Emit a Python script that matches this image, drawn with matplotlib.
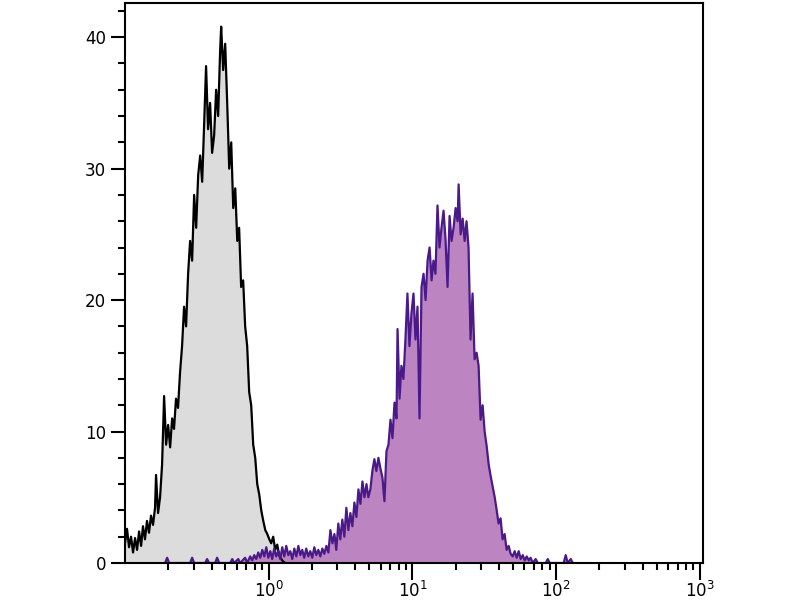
import numpy as np
import matplotlib
matplotlib.use('Agg')
import matplotlib.pyplot as plt
from matplotlib.ticker import LogLocator, MultipleLocator, FixedLocator

# control (gray) histogram: log10 of fluorescence, counts
gray_logx = [-1.000, -0.986, -0.972, -0.958, -0.944, -0.930, -0.916, -0.902, -0.888, -0.875,
             -0.861, -0.847, -0.833, -0.819, -0.805, -0.791, -0.784, -0.770, -0.756, -0.742,
             -0.728, -0.714, -0.700, -0.686, -0.672, -0.659, -0.645, -0.631, -0.617, -0.603,
             -0.589, -0.575, -0.561, -0.547, -0.533, -0.519, -0.505, -0.491, -0.477, -0.463,
             -0.449, -0.436, -0.422, -0.408, -0.394, -0.380, -0.366, -0.352, -0.338, -0.331,
             -0.317, -0.303, -0.289, -0.275, -0.261, -0.247, -0.233, -0.219, -0.206, -0.192,
             -0.178, -0.164, -0.150, -0.136, -0.122, -0.108, -0.094, -0.080, -0.066, -0.052,
             -0.038, -0.024, -0.010, 0.004, 0.017, 0.031, 0.045, 0.059, 0.073, 0.087,
             0.101, 0.115]
gray_counts = [1.5, 2.6, 1.2, 2.0, 0.8, 1.9, 1.0, 2.4, 1.3, 2.8,
               1.8, 3.2, 2.3, 3.6, 2.9, 4.2, 6.7, 3.8, 5.0, 7.5,
               12.7, 9.0, 10.5, 8.8, 11.0, 10.2, 12.5, 11.8, 14.5, 16.5,
               19.5, 18.0, 22.0, 24.5, 23.0, 28.0, 25.5, 29.5, 31.0, 29.0,
               33.5, 37.8, 33.0, 35.0, 31.2, 32.5, 36.0, 34.0, 39.0, 40.8,
               37.5, 39.5, 35.0, 30.0, 32.0, 27.0, 28.5, 24.5, 25.5, 21.0,
               21.5, 18.0, 16.5, 13.0, 12.0, 9.0, 8.0, 6.0, 5.2, 4.0,
               3.2, 2.5, 2.2, 1.8, 1.5, 2.0, 1.0, 1.4, 0.6, 0.3,
               0.1, 0.0]

# stained (purple) histogram
purple_logx = [-0.721, -0.707, -0.693, -0.547, -0.533, -0.519, -0.442, -0.429, -0.415, -0.373,
               -0.359, -0.345, -0.268, -0.254, -0.240, -0.212, -0.199, -0.164, -0.150, -0.129,
               -0.115, -0.101, -0.087, -0.073, -0.059, -0.045, -0.031, -0.017, -0.003, 0.011,
               0.024, 0.038, 0.052, 0.066, 0.080, 0.094, 0.108, 0.122, 0.136, 0.150,
               0.164, 0.178, 0.192, 0.206, 0.220, 0.233, 0.247, 0.261, 0.275, 0.289,
               0.303, 0.317, 0.331, 0.345, 0.359, 0.373, 0.387, 0.401, 0.415, 0.429,
               0.443, 0.457, 0.470, 0.484, 0.498, 0.512, 0.526, 0.540, 0.554, 0.568,
               0.582, 0.596, 0.610, 0.624, 0.638, 0.652, 0.666, 0.680, 0.693, 0.707,
               0.721, 0.735, 0.749, 0.763, 0.777, 0.791, 0.805, 0.819, 0.833, 0.847,
               0.861, 0.875, 0.889, 0.896, 0.910, 0.923, 0.937, 0.951, 0.965, 0.979,
               0.993, 1.007, 1.021, 1.035, 1.049, 1.063, 1.077, 1.091, 1.105, 1.119,
               1.133, 1.146, 1.160, 1.174, 1.188, 1.202, 1.216, 1.230, 1.244, 1.258,
               1.272, 1.286, 1.300, 1.314, 1.321, 1.335, 1.349, 1.363, 1.376, 1.390,
               1.404, 1.418, 1.432, 1.446, 1.460, 1.474, 1.488, 1.502, 1.516, 1.530,
               1.544, 1.558, 1.572, 1.586, 1.599, 1.613, 1.627, 1.641, 1.655, 1.669,
               1.683, 1.697, 1.711, 1.725, 1.739, 1.753, 1.767, 1.781, 1.795, 1.809,
               1.822, 1.836, 1.857, 1.871, 1.927, 1.941, 1.955, 2.052, 2.066, 2.080,
               2.101, 2.115]
purple_counts = [0.0, 0.4, 0.0, 0.0, 0.4, 0.0, 0.0, 0.3, 0.0, 0.0,
                 0.4, 0.0, 0.0, 0.3, 0.0, 0.3, 0.0, 0.4, 0.0, 0.5,
                 0.2, 0.6, 0.3, 0.8, 0.4, 1.0, 0.5, 1.2, 0.4, 0.9,
                 0.3, 1.1, 0.5, 0.9, 0.3, 1.2, 0.5, 1.3, 0.6, 0.9,
                 0.3, 1.1, 0.5, 1.3, 0.6, 1.0, 0.4, 1.1, 0.5, 0.9,
                 0.4, 1.2, 0.6, 1.0, 0.5, 1.1, 0.7, 1.3, 0.8, 2.5,
                 1.5, 2.2, 1.0, 3.0, 1.8, 3.3, 2.0, 4.2, 2.5, 3.8,
                 2.8, 4.6, 3.5, 5.6, 4.5, 6.2, 5.0, 6.0, 5.0, 5.6,
                 7.0, 7.9, 7.0, 8.0, 7.2, 6.5, 4.7, 8.5, 9.0, 10.9,
                 9.5, 12.2, 11.0, 17.8, 12.5, 15.0, 14.0, 17.0, 20.5, 16.5,
                 19.0, 20.5, 17.0, 19.5, 11.0, 21.0, 22.0, 20.0, 23.0, 24.0,
                 21.5, 23.0, 22.0, 27.2, 24.0, 25.5, 26.8, 24.6, 21.0, 26.4,
                 24.5, 25.5, 27.0, 26.0, 28.8, 25.0, 26.2, 24.5, 26.0, 24.0,
                 17.0, 20.5, 15.5, 16.0, 15.0, 10.9, 12.0, 10.0, 8.9, 7.5,
                 6.6, 5.8, 5.0, 4.0, 3.0, 3.4, 1.8, 2.2, 1.0, 1.3,
                 0.7, 0.5, 0.9, 0.4, 0.9, 0.3, 0.6, 0.2, 0.5, 0.2,
                 0.4, 0.0, 0.3, 0.0, 0.0, 0.3, 0.0, 0.0, 0.6, 0.0,
                 0.3, 0.0]

gray_x = 10 ** np.array(gray_logx)
gray_y = np.array(gray_counts)
purple_x = 10 ** np.array(purple_logx)
purple_y = np.array(purple_counts)

fig = plt.figure(figsize=(8, 6), dpi=100)
ax = fig.add_axes([125 / 800, 37 / 600, 578 / 800, 560 / 600])

ax.fill_between(gray_x, gray_y, 0, color='#dcdcdc', lw=0)
ax.plot(gray_x, gray_y, color='black', lw=1.6)
ax.fill_between(purple_x, purple_y, 0, color='#bd84c2', lw=0)
ax.plot(purple_x, purple_y, color='#4a1a8a', lw=1.6)

ax.set_xscale('log')
ax.set_xlim(0.1, 1050)
ax.set_ylim(0, 42.6)

ax.xaxis.set_major_locator(FixedLocator([1, 10, 100, 1000]))
ax.xaxis.set_minor_locator(LogLocator(base=10, subs=np.arange(2, 10)))
ax.yaxis.set_major_locator(MultipleLocator(10))
ax.yaxis.set_minor_locator(MultipleLocator(2))

ax.tick_params(axis='both', which='major', direction='out', length=10, width=1.5,
               labelsize=12, colors='black')
ax.tick_params(axis='both', which='minor', direction='out', length=5, width=1.5)
ax.tick_params(axis='x', which='major', length=12, pad=1)
ax.tick_params(top=False, right=False)

for s in ax.spines.values():
    s.set_linewidth(1.5)
    s.set_color('black')

fig.savefig('out.png', dpi=100)
